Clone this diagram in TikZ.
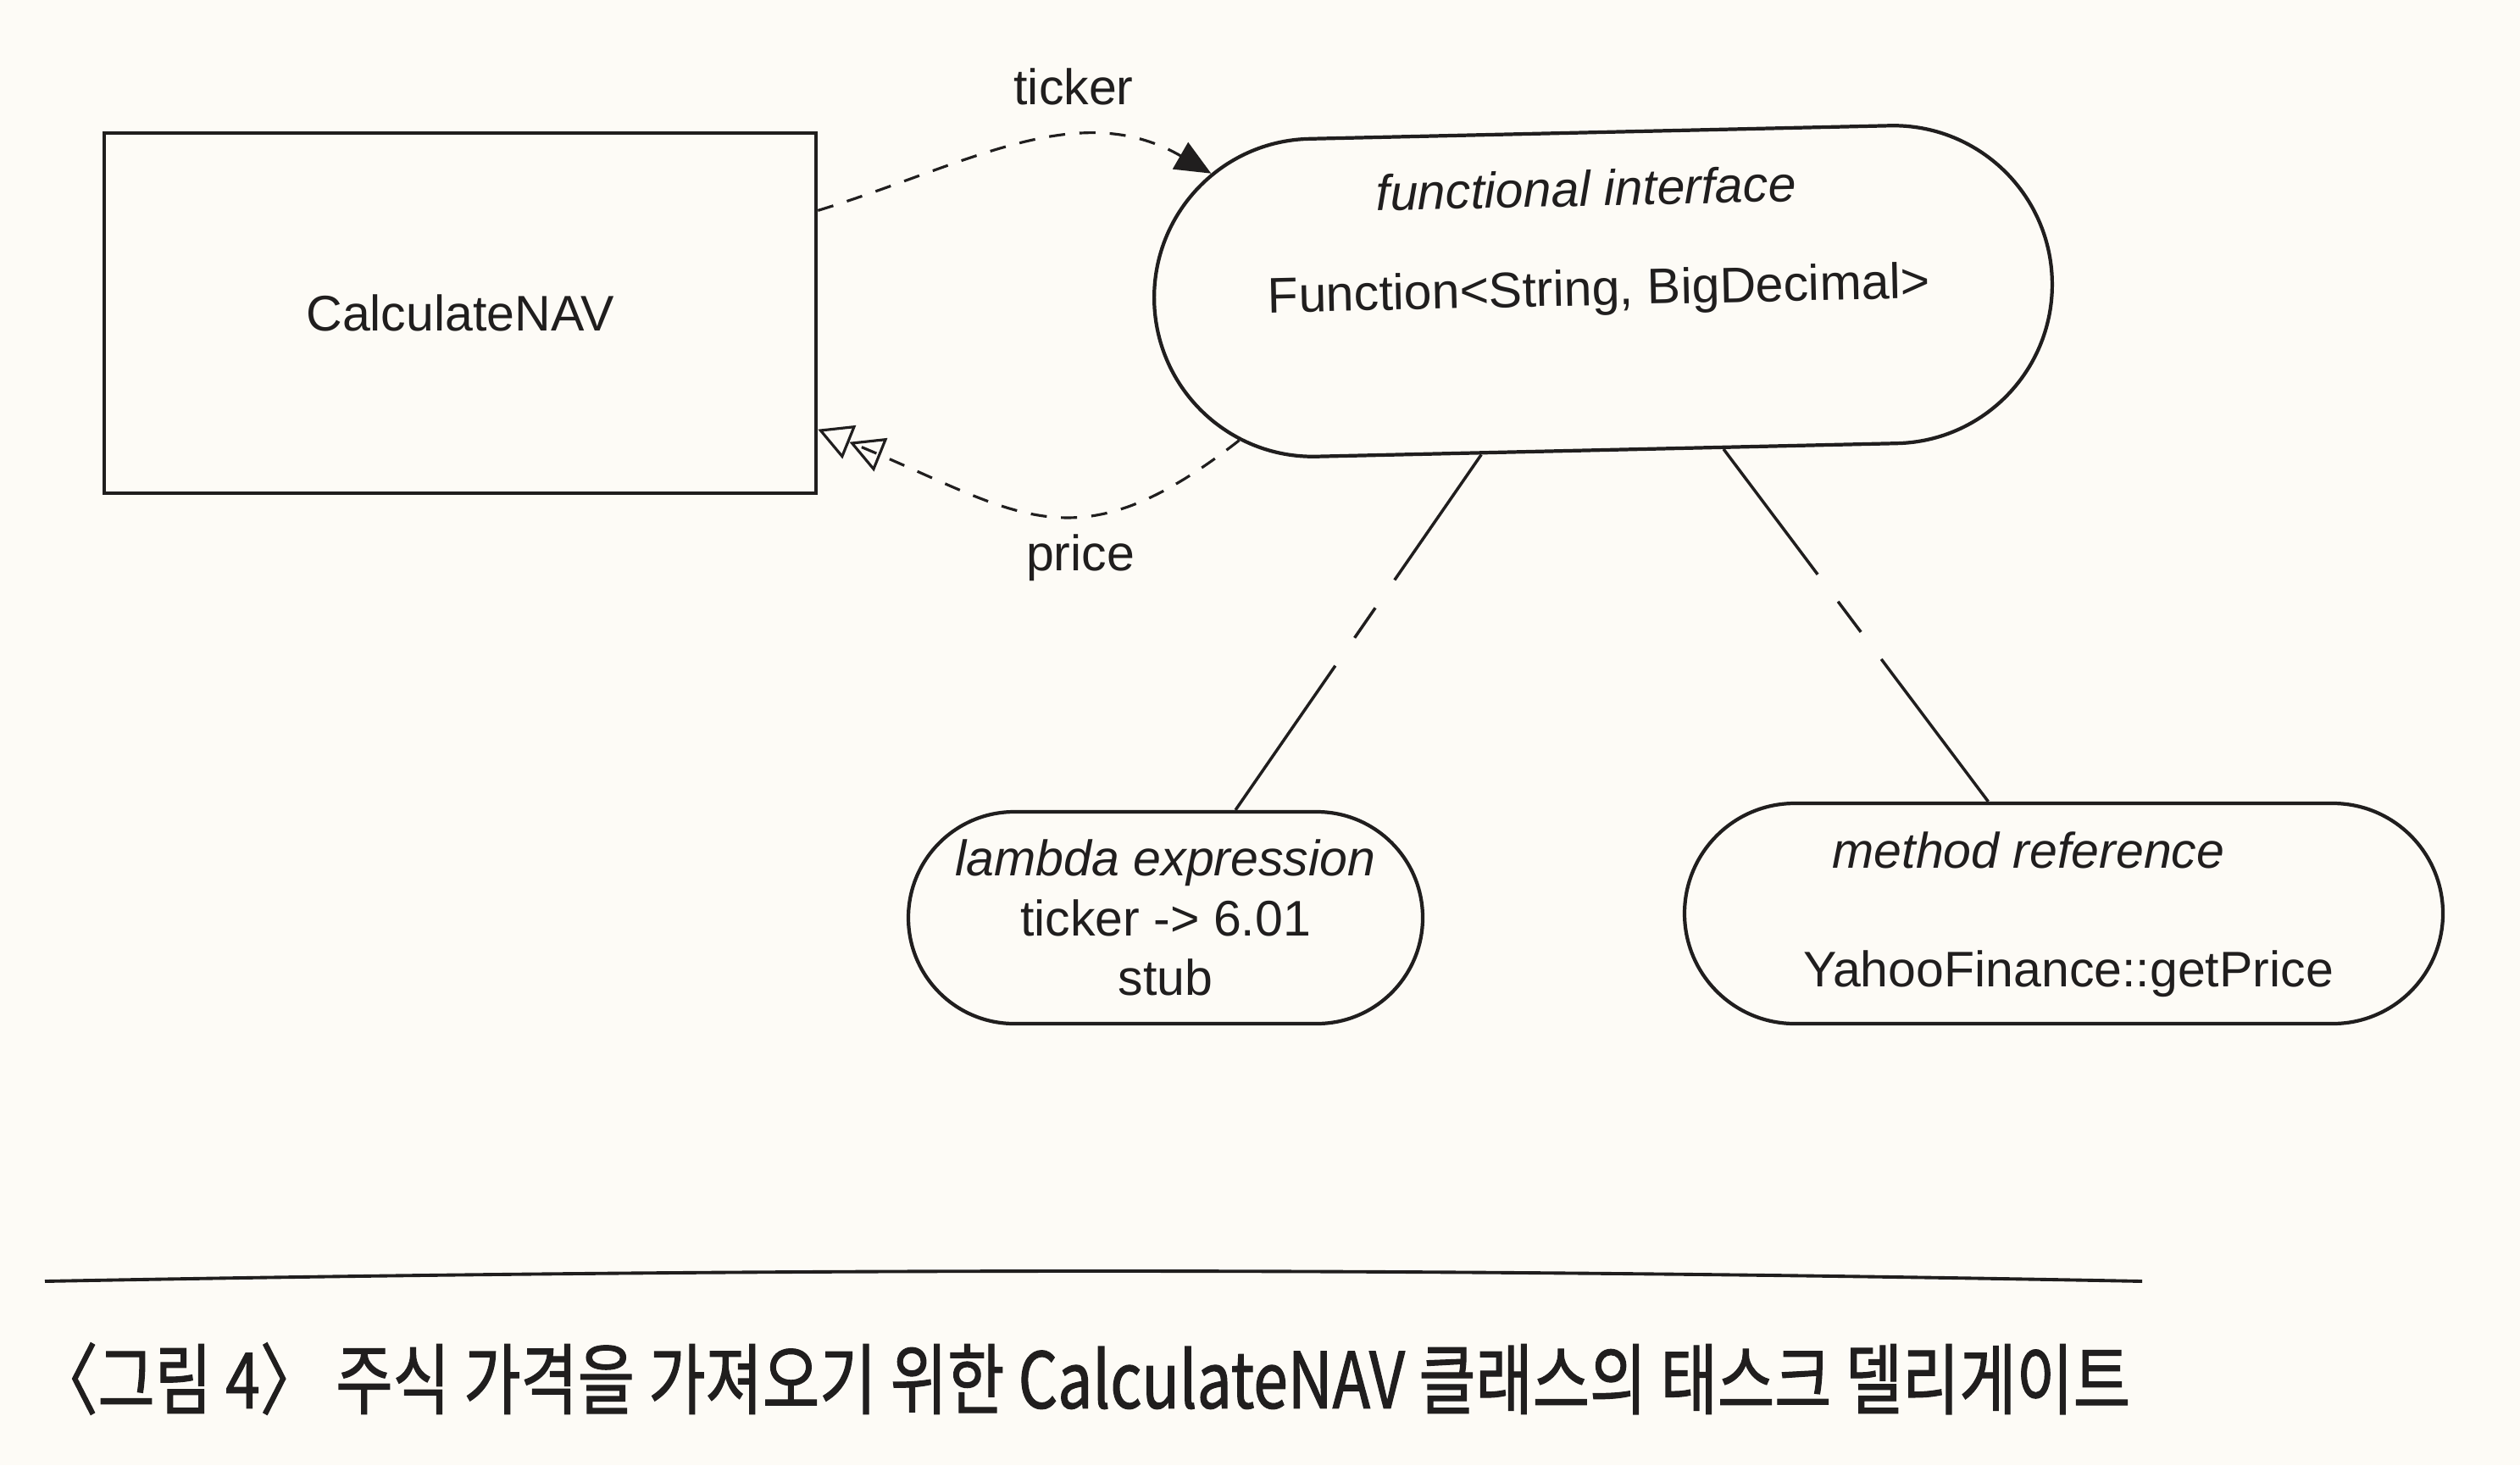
\documentclass[tikz,border=0pt]{standalone}
\usepackage{fontspec}
\setmainfont{Liberation Sans}
\newfontfamily\cjk[FakeStretch=0.8,FakeBold=1.2]{Noto Sans CJK KR}
\usetikzlibrary{arrows.meta,shapes.misc}
\definecolor{ink}{RGB}{32,30,30}
\definecolor{paper}{RGB}{253,251,246}

\begin{document}
\begin{tikzpicture}[
    lbl/.style={text=ink, font=\fontsize{16.8}{20}\selectfont},
    lblit/.style={text=ink, font=\fontsize{16.8}{20}\selectfont\itshape},
    stadium/.style={rounded rectangle, draw=ink, line width=1.2pt, inner sep=0pt},
    flow/.style={draw=ink, line width=0.9pt, dash pattern=on 5.4pt off 4.8pt},
    link/.style={draw=ink, line width=1pt}]
          \fill[paper] (0,0) rectangle (29.74,-17.29);
          \useasboundingbox (0,0) rectangle (29.74,-17.29);

          \node[draw=ink, line width=1.3pt, minimum width=8.4cm, minimum height=4.25cm, lbl] (calc) at (5.43,-3.695) {CalculateNAV};
          \node[stadium, minimum width=10.6cm, minimum height=3.75cm, rotate=1.3] (fi) at (18.92,-3.435) {};
          \node[lblit, rotate=1.3] (fitop) at (18.72,-2.22) {functional interface};
          \node[lbl, rotate=1.3] (fitype) at (18.87,-3.45) {Function<String, BigDecimal>};
          \node[stadium, minimum width=6.07cm, minimum height=2.5cm, lbl, align=center] (lam) at (13.755,-10.83) {\textit{lambda expression}\\ticker -> 6.01\\stub};
          \node[stadium, minimum width=8.95cm, minimum height=2.6cm] (mref) at (24.355,-10.78) {};
          \node[lblit] (mrtop) at (23.94,-10.03) {method reference};
          \node[lbl] (mrtype) at (24.41,-11.49) {YahooFinance::getPrice};
          \node[lbl] (tk) at (12.67,-1.02) {ticker};
          \node[lbl] (pr) at (12.75,-6.58) {price};

          \draw[flow, -{Triangle[length=0.42cm,width=0.36cm]}] (calc.16) to[out=17,in=150] (fi.162);
          \draw[flow, -{Triangle[open,length=0.4cm,width=0.42cm] Triangle[open,length=0.4cm,width=0.42cm]}] (fi.201) to[out=218,in=-22,looseness=1.3] (calc.-18);
          \draw[link, dash pattern=on 1.8cm off 0.4cm on 0.43cm off 0.4cm on 3cm] (fi.232) -- (lam.57);
          \draw[link, dash pattern=on 1.85cm off 0.4cm on 0.45cm off 0.4cm on 3cm] (fi.306) -- (mref.124);

          \draw[ink, line width=1.1pt] (0.53,-15.12) .. controls (9,-14.96) and (17,-14.96) .. (25.28,-15.12);
          \node[anchor=west, text=ink, font=\cjk\fontsize{26}{30}\selectfont] (cap) at (0.3,-16.27) {〈그림 4〉 주식 가격을 가져오기 위한 CalculateNAV 클래스의 태스크 델리게이트};
        \end{tikzpicture}
\end{document}
